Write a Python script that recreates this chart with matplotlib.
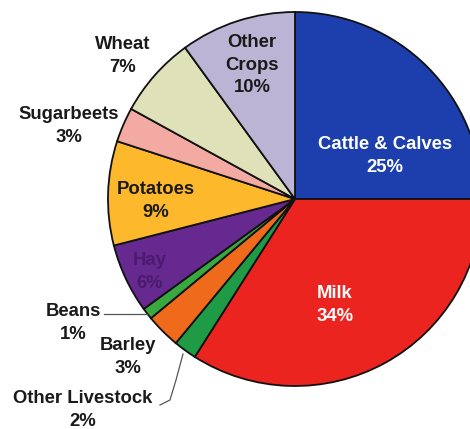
import matplotlib
matplotlib.use("Agg")
import matplotlib.pyplot as plt

categories = ["Cattle & Calves", "Milk", "Other Livestock", "Barley", "Beans",
              "Hay", "Potatoes", "Sugarbeets", "Wheat", "Other Crops"]
shares = [25, 34, 2, 3, 1, 6, 9, 3, 7, 10]
colors = ["#1d3fae", "#ec2420", "#1f9a45", "#f06a1c", "#3aa840",
          "#66298f", "#fdb82b", "#f3aaa2", "#dfe1b9", "#bcb4d4"]

W, H = 470, 429
fig = plt.figure(figsize=(W / 100, H / 100), dpi=100)
ax = fig.add_axes([0, 0, 1, 1])

# pie in pixel-like units so the right side gets cut off like the scan
ax.pie(shares, colors=colors, startangle=90, counterclock=False,
       center=(295, H - 199), radius=187,
       wedgeprops={"edgecolor": "#111111", "linewidth": 1.3})
ax.set_xlim(0, W)
ax.set_ylim(0, H)
ax.set_aspect("equal")
ax.axis("off")

font = {"family": ["Liberation Sans", "DejaVu Sans"], "weight": "bold", "fontsize": 13.3}

def label(x, y, txt, color="#1a1a1a"):
    ax.text(x, H - y, txt, ha="center", va="center", color=color,
            linespacing=1.45, **font)

label(385, 156, "Cattle & Calves\n25%", "white")
label(335, 305, "Milk\n34%", "white")
label(252, 65, "Other\nCrops\n10%")
label(123, 56, "Wheat\n7%")
label(69, 126, "Sugarbeets\n3%")
label(156, 201, "Potatoes\n9%")
label(150, 272, "Hay\n6%", "#4b1a6e")
label(73, 323, "Beans\n1%")
label(128, 357, "Barley\n3%")
label(83, 410, "Other Livestock\n2%")

# leader lines
ax.plot([104, 147], [H - 314, H - 314], color="#555555", lw=0.9)
ax.plot([160, 170, 176, 183], [H - 405, H - 400, H - 380, H - 354],
        color="#555555", lw=0.9)

fig.savefig("out.png", dpi=100)
